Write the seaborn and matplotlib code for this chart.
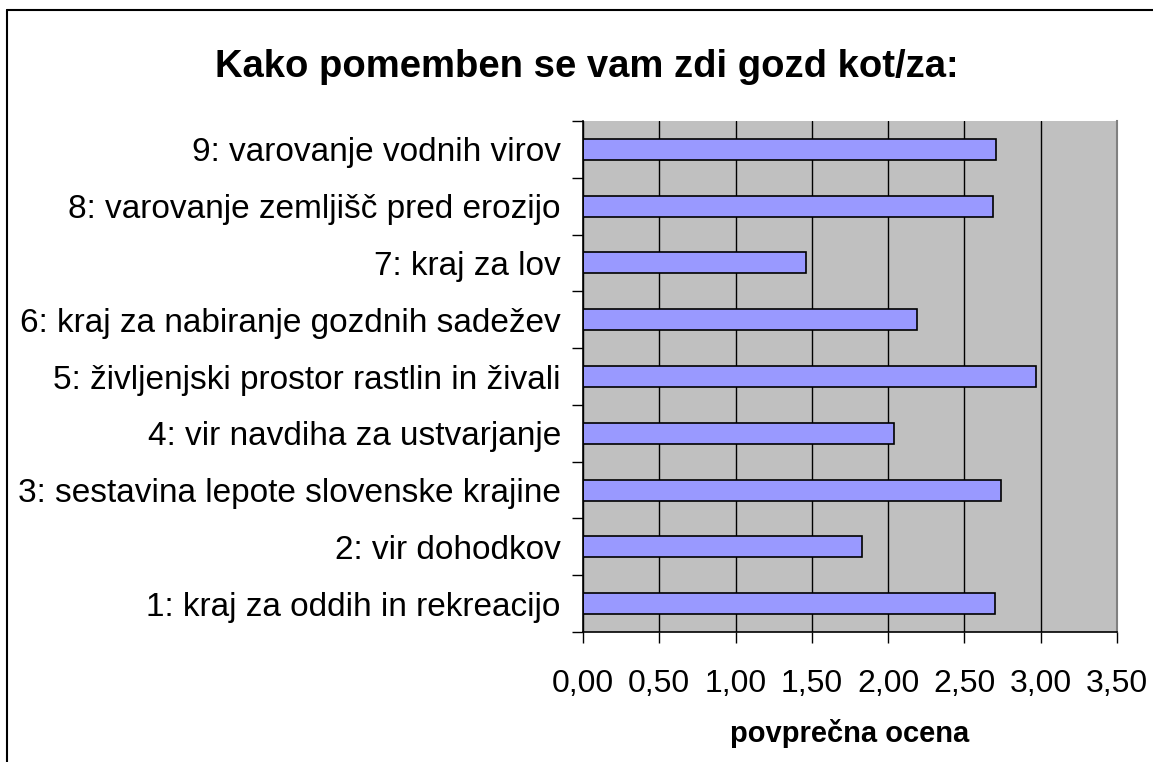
import matplotlib
matplotlib.use("Agg")
import matplotlib.pyplot as plt
from matplotlib.lines import Line2D
from matplotlib.ticker import FixedLocator, FuncFormatter
import seaborn as sns
import pandas as pd

# data (top to bottom as drawn)
labels = [
    "9: varovanje vodnih virov",
    "8: varovanje zemljišč pred erozijo",
    "7: kraj za lov",
    "6: kraj za nabiranje gozdnih sadežev",
    "5: življenjski prostor rastlin in živali",
    "4: vir navdiha za ustvarjanje",
    "3: sestavina lepote slovenske krajine",
    "2: vir dohodkov",
    "1: kraj za oddih in rekreacijo",
]
values = [2.71, 2.69, 1.46, 2.19, 2.97, 2.04, 2.74, 1.83, 2.70]
x_ticks = [0, 0.5, 1.0, 1.5, 2.0, 2.5, 3.0, 3.5]

df = pd.DataFrame({"ocena": values, "vprasanje": labels})

sns.set_style("white")
plt.rcParams["font.family"] = ["Liberation Sans", "DejaVu Sans"]
plt.rcParams["text.color"] = "black"
plt.rcParams["xtick.color"] = "black"
plt.rcParams["ytick.color"] = "black"
plt.rcParams["axes.labelcolor"] = "black"

W, H = 1153, 762
fig = plt.figure(figsize=(W / 100, H / 100), dpi=100)
ax = fig.add_axes([583 / W, 1 - 632 / H, 534 / W, 511 / H])
ax.set_facecolor("#C0C0C0")

sns.barplot(data=df, x="ocena", y="vprasanje", orient="h", color="#9999FF",
            edgecolor="black", linewidth=1.2, width=0.37, saturation=1, ax=ax)

ax.set_xlim(0, 3.5)
ax.set_ylim(len(labels) - 0.5, -0.5)
ax.set_xticks(x_ticks)
ax.xaxis.set_major_formatter(FuncFormatter(lambda v, p: f"{v:.2f}".replace(".", ",")))
ax.set_axisbelow(True)
ax.grid(axis="x", color="black", linewidth=1)
ax.grid(axis="y", visible=False)

# category boundary ticks
ax.yaxis.set_minor_locator(FixedLocator([i - 0.5 for i in range(len(labels) + 1)]))
ax.tick_params(axis="y", which="major", length=0, pad=16, labelsize=24)
ax.tick_params(axis="y", which="minor", length=8, width=1, color="black", left=True)
ax.tick_params(axis="x", which="major", length=8, width=1, color="black",
               bottom=True, pad=19, labelsize=23)

for side in ["left", "bottom"]:
    ax.spines[side].set_color("black")
    ax.spines[side].set_linewidth(1.2)
ax.spines["top"].set_visible(False)
ax.spines["right"].set_color("#808080")
ax.spines["right"].set_linewidth(1.5)

ax.set_ylabel("")
ax.set_xlabel("povprečna ocena", fontsize=21, fontweight="bold", labelpad=14)

fig.text(587 / W, 1 - 67 / H, "Kako pomemben se vam zdi gozd kot/za:",
         ha="center", va="center", fontsize=27.5, fontweight="bold")

# chart frame (cut off at right and bottom)
fig.add_artist(Line2D([7 / W, 1], [1 - 10 / H, 1 - 10 / H], color="black", linewidth=1.5,
                      transform=fig.transFigure))
fig.add_artist(Line2D([7 / W, 7 / W], [0, 1 - 10 / H], color="black", linewidth=1.5,
                      transform=fig.transFigure))

fig.savefig("out.png", dpi=100)
